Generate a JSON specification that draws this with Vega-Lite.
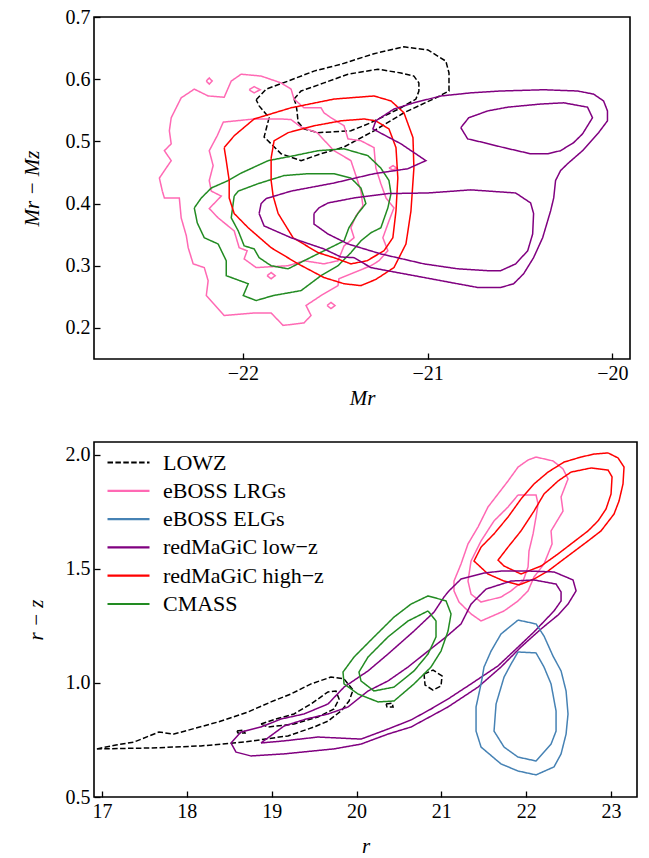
{
"$schema": "https://vega.github.io/schema/vega-lite/v6.json",
"padding": {"left": 20, "top": 6, "right": 5, "bottom": 5},
"spacing": 32,
"config": {
  "font": "Liberation Serif",
  "view": {"stroke": "black", "strokeWidth": 1.6},
  "axis": {"domain": false, "grid": false, "tickColor": "black", "tickWidth": 1.3, "tickSize": -6, "labelPadding": 10, "labelFontSize": 20, "labelColor": "black", "labelFont": "Liberation Serif", "titleFont": "Liberation Serif", "titleFontSize": 21, "titleFontWeight": "normal", "titleFontStyle": "italic", "titleColor": "black"}
},
"resolve": {"scale": {"color": "independent", "strokeDash": "independent"}},
"datasets": {
"top": [
{"s":"LOWZ","c":"a1","i":0,"x":-21.928,"y":0.567},{"s":"LOWZ","c":"a1","i":1,"x":-21.874,"y":0.584},{"s":"LOWZ","c":"a1","i":2,"x":-21.755,"y":0.597},{"s":"LOWZ","c":"a1","i":3,"x":-21.615,"y":0.613},{"s":"LOWZ","c":"a1","i":4,"x":-21.469,"y":0.624},{"s":"LOWZ","c":"a1","i":5,"x":-21.290,"y":0.641},{"s":"LOWZ","c":"a1","i":6,"x":-21.128,"y":0.652},{"s":"LOWZ","c":"a1","i":7,"x":-20.998,"y":0.647},{"s":"LOWZ","c":"a1","i":8,"x":-20.901,"y":0.629},{"s":"LOWZ","c":"a1","i":9,"x":-20.884,"y":0.610},{"s":"LOWZ","c":"a1","i":10,"x":-20.884,"y":0.581},{"s":"LOWZ","c":"a1","i":11,"x":-20.955,"y":0.570},{"s":"LOWZ","c":"a1","i":12,"x":-21.128,"y":0.546},{"s":"LOWZ","c":"a1","i":13,"x":-21.290,"y":0.517},{"s":"LOWZ","c":"a1","i":14,"x":-21.452,"y":0.491},{"s":"LOWZ","c":"a1","i":15,"x":-21.577,"y":0.480},{"s":"LOWZ","c":"a1","i":16,"x":-21.685,"y":0.469},{"s":"LOWZ","c":"a1","i":17,"x":-21.793,"y":0.480},{"s":"LOWZ","c":"a1","i":18,"x":-21.847,"y":0.496},{"s":"LOWZ","c":"a1","i":19,"x":-21.885,"y":0.507},{"s":"LOWZ","c":"a1","i":20,"x":-21.858,"y":0.538},{"s":"LOWZ","c":"a1","i":21,"x":-21.912,"y":0.557},{"s":"LOWZ","c":"a1","i":22,"x":-21.928,"y":0.567},
{"s":"LOWZ","c":"a2","i":0,"x":-21.723,"y":0.568},{"s":"LOWZ","c":"a2","i":1,"x":-21.685,"y":0.581},{"s":"LOWZ","c":"a2","i":2,"x":-21.561,"y":0.594},{"s":"LOWZ","c":"a2","i":3,"x":-21.431,"y":0.608},{"s":"LOWZ","c":"a2","i":4,"x":-21.269,"y":0.616},{"s":"LOWZ","c":"a2","i":5,"x":-21.144,"y":0.610},{"s":"LOWZ","c":"a2","i":6,"x":-21.074,"y":0.605},{"s":"LOWZ","c":"a2","i":7,"x":-21.047,"y":0.594},{"s":"LOWZ","c":"a2","i":8,"x":-21.047,"y":0.581},{"s":"LOWZ","c":"a2","i":9,"x":-21.063,"y":0.568},{"s":"LOWZ","c":"a2","i":10,"x":-21.144,"y":0.554},{"s":"LOWZ","c":"a2","i":11,"x":-21.307,"y":0.530},{"s":"LOWZ","c":"a2","i":12,"x":-21.415,"y":0.517},{"s":"LOWZ","c":"a2","i":13,"x":-21.594,"y":0.514},{"s":"LOWZ","c":"a2","i":14,"x":-21.669,"y":0.520},{"s":"LOWZ","c":"a2","i":15,"x":-21.701,"y":0.531},{"s":"LOWZ","c":"a2","i":16,"x":-21.707,"y":0.549},{"s":"LOWZ","c":"a2","i":17,"x":-21.712,"y":0.559},{"s":"LOWZ","c":"a2","i":18,"x":-21.723,"y":0.568},
{"s":"eBOSS LRGs","c":"b1","i":0,"x":-22.436,"y":0.420},{"s":"eBOSS LRGs","c":"b1","i":1,"x":-22.452,"y":0.441},{"s":"eBOSS LRGs","c":"b1","i":2,"x":-22.388,"y":0.469},{"s":"eBOSS LRGs","c":"b1","i":3,"x":-22.425,"y":0.485},{"s":"eBOSS LRGs","c":"b1","i":4,"x":-22.388,"y":0.496},{"s":"eBOSS LRGs","c":"b1","i":5,"x":-22.398,"y":0.517},{"s":"eBOSS LRGs","c":"b1","i":6,"x":-22.388,"y":0.538},{"s":"eBOSS LRGs","c":"b1","i":7,"x":-22.334,"y":0.570},{"s":"eBOSS LRGs","c":"b1","i":8,"x":-22.263,"y":0.584},{"s":"eBOSS LRGs","c":"b1","i":9,"x":-22.188,"y":0.573},{"s":"eBOSS LRGs","c":"b1","i":10,"x":-22.101,"y":0.571},{"s":"eBOSS LRGs","c":"b1","i":11,"x":-22.063,"y":0.597},{"s":"eBOSS LRGs","c":"b1","i":12,"x":-22.009,"y":0.608},{"s":"eBOSS LRGs","c":"b1","i":13,"x":-21.901,"y":0.605},{"s":"eBOSS LRGs","c":"b1","i":14,"x":-21.793,"y":0.594},{"s":"eBOSS LRGs","c":"b1","i":15,"x":-21.739,"y":0.584},{"s":"eBOSS LRGs","c":"b1","i":16,"x":-21.723,"y":0.568},{"s":"eBOSS LRGs","c":"b1","i":17,"x":-21.669,"y":0.554},{"s":"eBOSS LRGs","c":"b1","i":18,"x":-21.577,"y":0.554},{"s":"eBOSS LRGs","c":"b1","i":19,"x":-21.561,"y":0.546},{"s":"eBOSS LRGs","c":"b1","i":20,"x":-21.523,"y":0.538},{"s":"eBOSS LRGs","c":"b1","i":21,"x":-21.452,"y":0.525},{"s":"eBOSS LRGs","c":"b1","i":22,"x":-21.431,"y":0.504},{"s":"eBOSS LRGs","c":"b1","i":23,"x":-21.361,"y":0.501},{"s":"eBOSS LRGs","c":"b1","i":24,"x":-21.290,"y":0.490},{"s":"eBOSS LRGs","c":"b1","i":25,"x":-21.280,"y":0.457},{"s":"eBOSS LRGs","c":"b1","i":26,"x":-21.253,"y":0.432},{"s":"eBOSS LRGs","c":"b1","i":27,"x":-21.225,"y":0.409},{"s":"eBOSS LRGs","c":"b1","i":28,"x":-21.182,"y":0.393},{"s":"eBOSS LRGs","c":"b1","i":29,"x":-21.209,"y":0.372},{"s":"eBOSS LRGs","c":"b1","i":30,"x":-21.242,"y":0.345},{"s":"eBOSS LRGs","c":"b1","i":31,"x":-21.215,"y":0.324},{"s":"eBOSS LRGs","c":"b1","i":32,"x":-21.263,"y":0.308},{"s":"eBOSS LRGs","c":"b1","i":33,"x":-21.307,"y":0.300},{"s":"eBOSS LRGs","c":"b1","i":34,"x":-21.398,"y":0.289},{"s":"eBOSS LRGs","c":"b1","i":35,"x":-21.480,"y":0.279},{"s":"eBOSS LRGs","c":"b1","i":36,"x":-21.485,"y":0.268},{"s":"eBOSS LRGs","c":"b1","i":37,"x":-21.577,"y":0.252},{"s":"eBOSS LRGs","c":"b1","i":38,"x":-21.658,"y":0.236},{"s":"eBOSS LRGs","c":"b1","i":39,"x":-21.631,"y":0.220},{"s":"eBOSS LRGs","c":"b1","i":40,"x":-21.669,"y":0.208},{"s":"eBOSS LRGs","c":"b1","i":41,"x":-21.782,"y":0.204},{"s":"eBOSS LRGs","c":"b1","i":42,"x":-21.847,"y":0.224},{"s":"eBOSS LRGs","c":"b1","i":43,"x":-21.939,"y":0.224},{"s":"eBOSS LRGs","c":"b1","i":44,"x":-22.101,"y":0.220},{"s":"eBOSS LRGs","c":"b1","i":45,"x":-22.198,"y":0.252},{"s":"eBOSS LRGs","c":"b1","i":46,"x":-22.188,"y":0.276},{"s":"eBOSS LRGs","c":"b1","i":47,"x":-22.209,"y":0.297},{"s":"eBOSS LRGs","c":"b1","i":48,"x":-22.269,"y":0.303},{"s":"eBOSS LRGs","c":"b1","i":49,"x":-22.296,"y":0.329},{"s":"eBOSS LRGs","c":"b1","i":50,"x":-22.306,"y":0.348},{"s":"eBOSS LRGs","c":"b1","i":51,"x":-22.334,"y":0.377},{"s":"eBOSS LRGs","c":"b1","i":52,"x":-22.344,"y":0.409},{"s":"eBOSS LRGs","c":"b1","i":53,"x":-22.425,"y":0.409},{"s":"eBOSS LRGs","c":"b1","i":54,"x":-22.436,"y":0.420},
{"s":"eBOSS LRGs","c":"b2","i":0,"x":-22.139,"y":0.509},{"s":"eBOSS LRGs","c":"b2","i":1,"x":-22.106,"y":0.531},{"s":"eBOSS LRGs","c":"b2","i":2,"x":-21.939,"y":0.536},{"s":"eBOSS LRGs","c":"b2","i":3,"x":-21.793,"y":0.536},{"s":"eBOSS LRGs","c":"b2","i":4,"x":-21.739,"y":0.535},{"s":"eBOSS LRGs","c":"b2","i":5,"x":-21.685,"y":0.523},{"s":"eBOSS LRGs","c":"b2","i":6,"x":-21.598,"y":0.514},{"s":"eBOSS LRGs","c":"b2","i":7,"x":-21.507,"y":0.485},{"s":"eBOSS LRGs","c":"b2","i":8,"x":-21.415,"y":0.469},{"s":"eBOSS LRGs","c":"b2","i":9,"x":-21.388,"y":0.445},{"s":"eBOSS LRGs","c":"b2","i":10,"x":-21.361,"y":0.420},{"s":"eBOSS LRGs","c":"b2","i":11,"x":-21.350,"y":0.396},{"s":"eBOSS LRGs","c":"b2","i":12,"x":-21.388,"y":0.380},{"s":"eBOSS LRGs","c":"b2","i":13,"x":-21.415,"y":0.361},{"s":"eBOSS LRGs","c":"b2","i":14,"x":-21.398,"y":0.345},{"s":"eBOSS LRGs","c":"b2","i":15,"x":-21.452,"y":0.332},{"s":"eBOSS LRGs","c":"b2","i":16,"x":-21.485,"y":0.308},{"s":"eBOSS LRGs","c":"b2","i":17,"x":-21.561,"y":0.303},{"s":"eBOSS LRGs","c":"b2","i":18,"x":-21.669,"y":0.308},{"s":"eBOSS LRGs","c":"b2","i":19,"x":-21.755,"y":0.300},{"s":"eBOSS LRGs","c":"b2","i":20,"x":-21.928,"y":0.297},{"s":"eBOSS LRGs","c":"b2","i":21,"x":-21.993,"y":0.311},{"s":"eBOSS LRGs","c":"b2","i":22,"x":-21.977,"y":0.324},{"s":"eBOSS LRGs","c":"b2","i":23,"x":-22.020,"y":0.329},{"s":"eBOSS LRGs","c":"b2","i":24,"x":-22.047,"y":0.356},{"s":"eBOSS LRGs","c":"b2","i":25,"x":-22.134,"y":0.377},{"s":"eBOSS LRGs","c":"b2","i":26,"x":-22.182,"y":0.392},{"s":"eBOSS LRGs","c":"b2","i":27,"x":-22.117,"y":0.412},{"s":"eBOSS LRGs","c":"b2","i":28,"x":-22.171,"y":0.420},{"s":"eBOSS LRGs","c":"b2","i":29,"x":-22.182,"y":0.437},{"s":"eBOSS LRGs","c":"b2","i":30,"x":-22.161,"y":0.461},{"s":"eBOSS LRGs","c":"b2","i":31,"x":-22.182,"y":0.485},{"s":"eBOSS LRGs","c":"b2","i":32,"x":-22.139,"y":0.509},
{"s":"eBOSS LRGs","c":"b3","i":0,"x":-22.198,"y":0.597},{"s":"eBOSS LRGs","c":"b3","i":1,"x":-22.182,"y":0.602},{"s":"eBOSS LRGs","c":"b3","i":2,"x":-22.166,"y":0.597},{"s":"eBOSS LRGs","c":"b3","i":3,"x":-22.182,"y":0.592},{"s":"eBOSS LRGs","c":"b3","i":4,"x":-22.198,"y":0.597},
{"s":"eBOSS LRGs","c":"b4","i":0,"x":-21.966,"y":0.583},{"s":"eBOSS LRGs","c":"b4","i":1,"x":-21.939,"y":0.588},{"s":"eBOSS LRGs","c":"b4","i":2,"x":-21.906,"y":0.583},{"s":"eBOSS LRGs","c":"b4","i":3,"x":-21.939,"y":0.578},{"s":"eBOSS LRGs","c":"b4","i":4,"x":-21.966,"y":0.583},
{"s":"eBOSS LRGs","c":"b5","i":0,"x":-21.869,"y":0.284},{"s":"eBOSS LRGs","c":"b5","i":1,"x":-21.847,"y":0.289},{"s":"eBOSS LRGs","c":"b5","i":2,"x":-21.825,"y":0.284},{"s":"eBOSS LRGs","c":"b5","i":3,"x":-21.847,"y":0.279},{"s":"eBOSS LRGs","c":"b5","i":4,"x":-21.869,"y":0.284},
{"s":"eBOSS LRGs","c":"b6","i":0,"x":-21.544,"y":0.236},{"s":"eBOSS LRGs","c":"b6","i":1,"x":-21.523,"y":0.241},{"s":"eBOSS LRGs","c":"b6","i":2,"x":-21.501,"y":0.236},{"s":"eBOSS LRGs","c":"b6","i":3,"x":-21.523,"y":0.231},{"s":"eBOSS LRGs","c":"b6","i":4,"x":-21.544,"y":0.236},
{"s":"eBOSS LRGs","c":"b7","i":0,"x":-21.209,"y":0.457},{"s":"eBOSS LRGs","c":"b7","i":1,"x":-21.187,"y":0.461},{"s":"eBOSS LRGs","c":"b7","i":2,"x":-21.166,"y":0.457},{"s":"eBOSS LRGs","c":"b7","i":3,"x":-21.187,"y":0.454},{"s":"eBOSS LRGs","c":"b7","i":4,"x":-21.209,"y":0.457},
{"s":"CMASS","c":"g1","i":0,"x":-22.263,"y":0.393},{"s":"CMASS","c":"g1","i":1,"x":-22.225,"y":0.409},{"s":"CMASS","c":"g1","i":2,"x":-22.171,"y":0.425},{"s":"CMASS","c":"g1","i":3,"x":-22.079,"y":0.437},{"s":"CMASS","c":"g1","i":4,"x":-22.009,"y":0.449},{"s":"CMASS","c":"g1","i":5,"x":-21.863,"y":0.469},{"s":"CMASS","c":"g1","i":6,"x":-21.723,"y":0.477},{"s":"CMASS","c":"g1","i":7,"x":-21.593,"y":0.485},{"s":"CMASS","c":"g1","i":8,"x":-21.452,"y":0.488},{"s":"CMASS","c":"g1","i":9,"x":-21.323,"y":0.477},{"s":"CMASS","c":"g1","i":10,"x":-21.253,"y":0.457},{"s":"CMASS","c":"g1","i":11,"x":-21.209,"y":0.437},{"s":"CMASS","c":"g1","i":12,"x":-21.198,"y":0.416},{"s":"CMASS","c":"g1","i":13,"x":-21.215,"y":0.393},{"s":"CMASS","c":"g1","i":14,"x":-21.253,"y":0.361},{"s":"CMASS","c":"g1","i":15,"x":-21.307,"y":0.353},{"s":"CMASS","c":"g1","i":16,"x":-21.361,"y":0.340},{"s":"CMASS","c":"g1","i":17,"x":-21.415,"y":0.321},{"s":"CMASS","c":"g1","i":18,"x":-21.485,"y":0.300},{"s":"CMASS","c":"g1","i":19,"x":-21.577,"y":0.284},{"s":"CMASS","c":"g1","i":20,"x":-21.685,"y":0.260},{"s":"CMASS","c":"g1","i":21,"x":-21.836,"y":0.252},{"s":"CMASS","c":"g1","i":22,"x":-21.928,"y":0.244},{"s":"CMASS","c":"g1","i":23,"x":-21.998,"y":0.252},{"s":"CMASS","c":"g1","i":24,"x":-21.971,"y":0.271},{"s":"CMASS","c":"g1","i":25,"x":-22.090,"y":0.284},{"s":"CMASS","c":"g1","i":26,"x":-22.090,"y":0.308},{"s":"CMASS","c":"g1","i":27,"x":-22.134,"y":0.335},{"s":"CMASS","c":"g1","i":28,"x":-22.209,"y":0.345},{"s":"CMASS","c":"g1","i":29,"x":-22.247,"y":0.369},{"s":"CMASS","c":"g1","i":30,"x":-22.263,"y":0.393},
{"s":"CMASS","c":"g2","i":0,"x":-22.047,"y":0.412},{"s":"CMASS","c":"g2","i":1,"x":-22.025,"y":0.420},{"s":"CMASS","c":"g2","i":2,"x":-21.917,"y":0.432},{"s":"CMASS","c":"g2","i":3,"x":-21.777,"y":0.445},{"s":"CMASS","c":"g2","i":4,"x":-21.647,"y":0.448},{"s":"CMASS","c":"g2","i":5,"x":-21.507,"y":0.448},{"s":"CMASS","c":"g2","i":6,"x":-21.415,"y":0.441},{"s":"CMASS","c":"g2","i":7,"x":-21.361,"y":0.425},{"s":"CMASS","c":"g2","i":8,"x":-21.334,"y":0.400},{"s":"CMASS","c":"g2","i":9,"x":-21.377,"y":0.384},{"s":"CMASS","c":"g2","i":10,"x":-21.426,"y":0.361},{"s":"CMASS","c":"g2","i":11,"x":-21.452,"y":0.340},{"s":"CMASS","c":"g2","i":12,"x":-21.561,"y":0.324},{"s":"CMASS","c":"g2","i":13,"x":-21.669,"y":0.308},{"s":"CMASS","c":"g2","i":14,"x":-21.755,"y":0.295},{"s":"CMASS","c":"g2","i":15,"x":-21.847,"y":0.300},{"s":"CMASS","c":"g2","i":16,"x":-21.912,"y":0.313},{"s":"CMASS","c":"g2","i":17,"x":-21.939,"y":0.327},{"s":"CMASS","c":"g2","i":18,"x":-21.993,"y":0.332},{"s":"CMASS","c":"g2","i":19,"x":-22.025,"y":0.356},{"s":"CMASS","c":"g2","i":20,"x":-22.063,"y":0.377},{"s":"CMASS","c":"g2","i":21,"x":-22.047,"y":0.412},
{"s":"redMaGiC high\u2212z","c":"r1","i":0,"x":-22.101,"y":0.490},{"s":"redMaGiC high\u2212z","c":"r1","i":1,"x":-22.090,"y":0.469},{"s":"redMaGiC high\u2212z","c":"r1","i":2,"x":-22.074,"y":0.437},{"s":"redMaGiC high\u2212z","c":"r1","i":3,"x":-22.074,"y":0.409},{"s":"redMaGiC high\u2212z","c":"r1","i":4,"x":-22.047,"y":0.384},{"s":"redMaGiC high\u2212z","c":"r1","i":5,"x":-21.971,"y":0.361},{"s":"redMaGiC high\u2212z","c":"r1","i":6,"x":-21.847,"y":0.329},{"s":"redMaGiC high\u2212z","c":"r1","i":7,"x":-21.701,"y":0.303},{"s":"redMaGiC high\u2212z","c":"r1","i":8,"x":-21.561,"y":0.281},{"s":"redMaGiC high\u2212z","c":"r1","i":9,"x":-21.452,"y":0.271},{"s":"redMaGiC high\u2212z","c":"r1","i":10,"x":-21.361,"y":0.268},{"s":"redMaGiC high\u2212z","c":"r1","i":11,"x":-21.280,"y":0.278},{"s":"redMaGiC high\u2212z","c":"r1","i":12,"x":-21.182,"y":0.297},{"s":"redMaGiC high\u2212z","c":"r1","i":13,"x":-21.117,"y":0.335},{"s":"redMaGiC high\u2212z","c":"r1","i":14,"x":-21.090,"y":0.388},{"s":"redMaGiC high\u2212z","c":"r1","i":15,"x":-21.074,"y":0.457},{"s":"redMaGiC high\u2212z","c":"r1","i":16,"x":-21.079,"y":0.506},{"s":"redMaGiC high\u2212z","c":"r1","i":17,"x":-21.128,"y":0.546},{"s":"redMaGiC high\u2212z","c":"r1","i":18,"x":-21.198,"y":0.565},{"s":"redMaGiC high\u2212z","c":"r1","i":19,"x":-21.290,"y":0.573},{"s":"redMaGiC high\u2212z","c":"r1","i":20,"x":-21.507,"y":0.568},{"s":"redMaGiC high\u2212z","c":"r1","i":21,"x":-21.739,"y":0.554},{"s":"redMaGiC high\u2212z","c":"r1","i":22,"x":-21.939,"y":0.536},{"s":"redMaGiC high\u2212z","c":"r1","i":23,"x":-22.047,"y":0.509},{"s":"redMaGiC high\u2212z","c":"r1","i":24,"x":-22.101,"y":0.490},
{"s":"redMaGiC high\u2212z","c":"r2","i":0,"x":-21.847,"y":0.473},{"s":"redMaGiC high\u2212z","c":"r2","i":1,"x":-21.831,"y":0.501},{"s":"redMaGiC high\u2212z","c":"r2","i":2,"x":-21.755,"y":0.514},{"s":"redMaGiC high\u2212z","c":"r2","i":3,"x":-21.615,"y":0.525},{"s":"redMaGiC high\u2212z","c":"r2","i":4,"x":-21.469,"y":0.533},{"s":"redMaGiC high\u2212z","c":"r2","i":5,"x":-21.344,"y":0.536},{"s":"redMaGiC high\u2212z","c":"r2","i":6,"x":-21.280,"y":0.533},{"s":"redMaGiC high\u2212z","c":"r2","i":7,"x":-21.209,"y":0.520},{"s":"redMaGiC high\u2212z","c":"r2","i":8,"x":-21.171,"y":0.490},{"s":"redMaGiC high\u2212z","c":"r2","i":9,"x":-21.161,"y":0.441},{"s":"redMaGiC high\u2212z","c":"r2","i":10,"x":-21.171,"y":0.388},{"s":"redMaGiC high\u2212z","c":"r2","i":11,"x":-21.188,"y":0.345},{"s":"redMaGiC high\u2212z","c":"r2","i":12,"x":-21.236,"y":0.324},{"s":"redMaGiC high\u2212z","c":"r2","i":13,"x":-21.328,"y":0.308},{"s":"redMaGiC high\u2212z","c":"r2","i":14,"x":-21.415,"y":0.303},{"s":"redMaGiC high\u2212z","c":"r2","i":15,"x":-21.507,"y":0.313},{"s":"redMaGiC high\u2212z","c":"r2","i":16,"x":-21.593,"y":0.321},{"s":"redMaGiC high\u2212z","c":"r2","i":17,"x":-21.728,"y":0.345},{"s":"redMaGiC high\u2212z","c":"r2","i":18,"x":-21.809,"y":0.384},{"s":"redMaGiC high\u2212z","c":"r2","i":19,"x":-21.836,"y":0.412},{"s":"redMaGiC high\u2212z","c":"r2","i":20,"x":-21.847,"y":0.437},{"s":"redMaGiC high\u2212z","c":"r2","i":21,"x":-21.847,"y":0.473},
{"s":"redMaGiC low\u2212z","c":"p1","i":0,"x":-21.912,"y":0.384},{"s":"redMaGiC low\u2212z","c":"p1","i":1,"x":-21.901,"y":0.400},{"s":"redMaGiC low\u2212z","c":"p1","i":2,"x":-21.874,"y":0.408},{"s":"redMaGiC low\u2212z","c":"p1","i":3,"x":-21.739,"y":0.420},{"s":"redMaGiC low\u2212z","c":"p1","i":4,"x":-21.507,"y":0.433},{"s":"redMaGiC low\u2212z","c":"p1","i":5,"x":-21.290,"y":0.448},{"s":"redMaGiC low\u2212z","c":"p1","i":6,"x":-21.107,"y":0.456},{"s":"redMaGiC low\u2212z","c":"p1","i":7,"x":-21.009,"y":0.469},{"s":"redMaGiC low\u2212z","c":"p1","i":8,"x":-21.144,"y":0.496},{"s":"redMaGiC low\u2212z","c":"p1","i":9,"x":-21.296,"y":0.520},{"s":"redMaGiC low\u2212z","c":"p1","i":10,"x":-21.280,"y":0.533},{"s":"redMaGiC low\u2212z","c":"p1","i":11,"x":-21.182,"y":0.552},{"s":"redMaGiC low\u2212z","c":"p1","i":12,"x":-21.074,"y":0.562},{"s":"redMaGiC low\u2212z","c":"p1","i":13,"x":-20.928,"y":0.573},{"s":"redMaGiC low\u2212z","c":"p1","i":14,"x":-20.766,"y":0.578},{"s":"redMaGiC low\u2212z","c":"p1","i":15,"x":-20.604,"y":0.581},{"s":"redMaGiC low\u2212z","c":"p1","i":16,"x":-20.371,"y":0.583},{"s":"redMaGiC low\u2212z","c":"p1","i":17,"x":-20.188,"y":0.581},{"s":"redMaGiC low\u2212z","c":"p1","i":18,"x":-20.101,"y":0.576},{"s":"redMaGiC low\u2212z","c":"p1","i":19,"x":-20.047,"y":0.565},{"s":"redMaGiC low\u2212z","c":"p1","i":20,"x":-20.026,"y":0.549},{"s":"redMaGiC low\u2212z","c":"p1","i":21,"x":-20.026,"y":0.533},{"s":"redMaGiC low\u2212z","c":"p1","i":22,"x":-20.074,"y":0.514},{"s":"redMaGiC low\u2212z","c":"p1","i":23,"x":-20.161,"y":0.485},{"s":"redMaGiC low\u2212z","c":"p1","i":24,"x":-20.242,"y":0.464},{"s":"redMaGiC low\u2212z","c":"p1","i":25,"x":-20.280,"y":0.453},{"s":"redMaGiC low\u2212z","c":"p1","i":26,"x":-20.307,"y":0.437},{"s":"redMaGiC low\u2212z","c":"p1","i":27,"x":-20.317,"y":0.409},{"s":"redMaGiC low\u2212z","c":"p1","i":28,"x":-20.334,"y":0.388},{"s":"redMaGiC low\u2212z","c":"p1","i":29,"x":-20.377,"y":0.345},{"s":"redMaGiC low\u2212z","c":"p1","i":30,"x":-20.426,"y":0.313},{"s":"redMaGiC low\u2212z","c":"p1","i":31,"x":-20.480,"y":0.287},{"s":"redMaGiC low\u2212z","c":"p1","i":32,"x":-20.534,"y":0.271},{"s":"redMaGiC low\u2212z","c":"p1","i":33,"x":-20.604,"y":0.265},{"s":"redMaGiC low\u2212z","c":"p1","i":34,"x":-20.728,"y":0.265},{"s":"redMaGiC low\u2212z","c":"p1","i":35,"x":-20.874,"y":0.273},{"s":"redMaGiC low\u2212z","c":"p1","i":36,"x":-21.036,"y":0.282},{"s":"redMaGiC low\u2212z","c":"p1","i":37,"x":-21.182,"y":0.290},{"s":"redMaGiC low\u2212z","c":"p1","i":38,"x":-21.307,"y":0.297},{"s":"redMaGiC low\u2212z","c":"p1","i":39,"x":-21.398,"y":0.313},{"s":"redMaGiC low\u2212z","c":"p1","i":40,"x":-21.469,"y":0.314},{"s":"redMaGiC low\u2212z","c":"p1","i":41,"x":-21.561,"y":0.327},{"s":"redMaGiC low\u2212z","c":"p1","i":42,"x":-21.739,"y":0.345},{"s":"redMaGiC low\u2212z","c":"p1","i":43,"x":-21.885,"y":0.364},{"s":"redMaGiC low\u2212z","c":"p1","i":44,"x":-21.912,"y":0.384},
{"s":"redMaGiC low\u2212z","c":"p2","i":0,"x":-21.615,"y":0.384},{"s":"redMaGiC low\u2212z","c":"p2","i":1,"x":-21.588,"y":0.393},{"s":"redMaGiC low\u2212z","c":"p2","i":2,"x":-21.539,"y":0.401},{"s":"redMaGiC low\u2212z","c":"p2","i":3,"x":-21.398,"y":0.409},{"s":"redMaGiC low\u2212z","c":"p2","i":4,"x":-21.215,"y":0.416},{"s":"redMaGiC low\u2212z","c":"p2","i":5,"x":-20.998,"y":0.417},{"s":"redMaGiC low\u2212z","c":"p2","i":6,"x":-20.766,"y":0.422},{"s":"redMaGiC low\u2212z","c":"p2","i":7,"x":-20.523,"y":0.417},{"s":"redMaGiC low\u2212z","c":"p2","i":8,"x":-20.442,"y":0.401},{"s":"redMaGiC low\u2212z","c":"p2","i":9,"x":-20.426,"y":0.384},{"s":"redMaGiC low\u2212z","c":"p2","i":10,"x":-20.431,"y":0.351},{"s":"redMaGiC low\u2212z","c":"p2","i":11,"x":-20.458,"y":0.324},{"s":"redMaGiC low\u2212z","c":"p2","i":12,"x":-20.523,"y":0.303},{"s":"redMaGiC low\u2212z","c":"p2","i":13,"x":-20.604,"y":0.292},{"s":"redMaGiC low\u2212z","c":"p2","i":14,"x":-20.674,"y":0.292},{"s":"redMaGiC low\u2212z","c":"p2","i":15,"x":-20.836,"y":0.295},{"s":"redMaGiC low\u2212z","c":"p2","i":16,"x":-21.020,"y":0.303},{"s":"redMaGiC low\u2212z","c":"p2","i":17,"x":-21.253,"y":0.319},{"s":"redMaGiC low\u2212z","c":"p2","i":18,"x":-21.431,"y":0.335},{"s":"redMaGiC low\u2212z","c":"p2","i":19,"x":-21.539,"y":0.351},{"s":"redMaGiC low\u2212z","c":"p2","i":20,"x":-21.615,"y":0.367},{"s":"redMaGiC low\u2212z","c":"p2","i":21,"x":-21.615,"y":0.384},
{"s":"redMaGiC low\u2212z","c":"p3","i":0,"x":-20.820,"y":0.522},{"s":"redMaGiC low\u2212z","c":"p3","i":1,"x":-20.777,"y":0.538},{"s":"redMaGiC low\u2212z","c":"p3","i":2,"x":-20.674,"y":0.549},{"s":"redMaGiC low\u2212z","c":"p3","i":3,"x":-20.566,"y":0.555},{"s":"redMaGiC low\u2212z","c":"p3","i":4,"x":-20.388,"y":0.560},{"s":"redMaGiC low\u2212z","c":"p3","i":5,"x":-20.263,"y":0.562},{"s":"redMaGiC low\u2212z","c":"p3","i":6,"x":-20.134,"y":0.555},{"s":"redMaGiC low\u2212z","c":"p3","i":7,"x":-20.107,"y":0.538},{"s":"redMaGiC low\u2212z","c":"p3","i":8,"x":-20.161,"y":0.512},{"s":"redMaGiC low\u2212z","c":"p3","i":9,"x":-20.209,"y":0.498},{"s":"redMaGiC low\u2212z","c":"p3","i":10,"x":-20.280,"y":0.485},{"s":"redMaGiC low\u2212z","c":"p3","i":11,"x":-20.350,"y":0.480},{"s":"redMaGiC low\u2212z","c":"p3","i":12,"x":-20.442,"y":0.480},{"s":"redMaGiC low\u2212z","c":"p3","i":13,"x":-20.588,"y":0.490},{"s":"redMaGiC low\u2212z","c":"p3","i":14,"x":-20.696,"y":0.498},{"s":"redMaGiC low\u2212z","c":"p3","i":15,"x":-20.783,"y":0.504},{"s":"redMaGiC low\u2212z","c":"p3","i":16,"x":-20.820,"y":0.522}
],
"bot": [
{"s":"LOWZ","c":"a1","i":0,"x":16.94,"y":0.711},{"s":"LOWZ","c":"a1","i":1,"x":17.165,"y":0.728},{"s":"LOWZ","c":"a1","i":2,"x":17.377,"y":0.741},{"s":"LOWZ","c":"a1","i":3,"x":17.672,"y":0.785},{"s":"LOWZ","c":"a1","i":4,"x":17.849,"y":0.776},{"s":"LOWZ","c":"a1","i":5,"x":18.367,"y":0.829},{"s":"LOWZ","c":"a1","i":6,"x":18.721,"y":0.873},{"s":"LOWZ","c":"a1","i":7,"x":18.992,"y":0.917},{"s":"LOWZ","c":"a1","i":8,"x":19.228,"y":0.952},{"s":"LOWZ","c":"a1","i":9,"x":19.464,"y":0.996},{"s":"LOWZ","c":"a1","i":10,"x":19.699,"y":1.026},{"s":"LOWZ","c":"a1","i":11,"x":19.853,"y":1.018},{"s":"LOWZ","c":"a1","i":12,"x":19.959,"y":0.969},{"s":"LOWZ","c":"a1","i":13,"x":19.912,"y":0.921},{"s":"LOWZ","c":"a1","i":14,"x":19.817,"y":0.877},{"s":"LOWZ","c":"a1","i":15,"x":19.664,"y":0.833},{"s":"LOWZ","c":"a1","i":16,"x":19.499,"y":0.807},{"s":"LOWZ","c":"a1","i":17,"x":19.193,"y":0.768},{"s":"LOWZ","c":"a1","i":18,"x":18.674,"y":0.741},{"s":"LOWZ","c":"a1","i":19,"x":18.167,"y":0.724},{"s":"LOWZ","c":"a1","i":20,"x":17.578,"y":0.715},{"s":"LOWZ","c":"a1","i":21,"x":16.94,"y":0.711},
{"s":"LOWZ","c":"a2","i":0,"x":18.874,"y":0.820},{"s":"LOWZ","c":"a2","i":1,"x":19.051,"y":0.842},{"s":"LOWZ","c":"a2","i":2,"x":19.263,"y":0.864},{"s":"LOWZ","c":"a2","i":3,"x":19.464,"y":0.908},{"s":"LOWZ","c":"a2","i":4,"x":19.664,"y":0.961},{"s":"LOWZ","c":"a2","i":5,"x":19.758,"y":0.965},{"s":"LOWZ","c":"a2","i":6,"x":19.794,"y":0.930},{"s":"LOWZ","c":"a2","i":7,"x":19.735,"y":0.886},{"s":"LOWZ","c":"a2","i":8,"x":19.546,"y":0.851},{"s":"LOWZ","c":"a2","i":9,"x":19.263,"y":0.820},{"s":"LOWZ","c":"a2","i":10,"x":18.957,"y":0.807},{"s":"LOWZ","c":"a2","i":11,"x":18.874,"y":0.820},
{"s":"LOWZ","c":"a3","i":0,"x":20.796,"y":1.039},{"s":"LOWZ","c":"a3","i":1,"x":20.902,"y":1.057},{"s":"LOWZ","c":"a3","i":2,"x":21.008,"y":1.031},{"s":"LOWZ","c":"a3","i":3,"x":20.996,"y":0.987},{"s":"LOWZ","c":"a3","i":4,"x":20.902,"y":0.969},{"s":"LOWZ","c":"a3","i":5,"x":20.808,"y":0.991},{"s":"LOWZ","c":"a3","i":6,"x":20.796,"y":1.039},
{"s":"LOWZ","c":"a4","i":0,"x":20.348,"y":0.908},{"s":"LOWZ","c":"a4","i":1,"x":20.419,"y":0.912},{"s":"LOWZ","c":"a4","i":2,"x":20.431,"y":0.895},{"s":"LOWZ","c":"a4","i":3,"x":20.360,"y":0.895},{"s":"LOWZ","c":"a4","i":4,"x":20.348,"y":0.908},
{"s":"LOWZ","c":"a5","i":0,"x":18.591,"y":0.789},{"s":"LOWZ","c":"a5","i":1,"x":18.674,"y":0.794},{"s":"LOWZ","c":"a5","i":2,"x":18.686,"y":0.781},{"s":"LOWZ","c":"a5","i":3,"x":18.603,"y":0.781},{"s":"LOWZ","c":"a5","i":4,"x":18.591,"y":0.789},
{"s":"eBOSS LRGs","c":"b1","i":0,"x":22.116,"y":1.991},{"s":"eBOSS LRGs","c":"b1","i":1,"x":22.316,"y":1.974},{"s":"eBOSS LRGs","c":"b1","i":2,"x":22.434,"y":1.939},{"s":"eBOSS LRGs","c":"b1","i":3,"x":22.493,"y":1.895},{"s":"eBOSS LRGs","c":"b1","i":4,"x":22.411,"y":1.816},{"s":"eBOSS LRGs","c":"b1","i":5,"x":22.434,"y":1.754},{"s":"eBOSS LRGs","c":"b1","i":6,"x":22.293,"y":1.667},{"s":"eBOSS LRGs","c":"b1","i":7,"x":22.305,"y":1.610},{"s":"eBOSS LRGs","c":"b1","i":8,"x":22.210,"y":1.522},{"s":"eBOSS LRGs","c":"b1","i":9,"x":22.092,"y":1.465},{"s":"eBOSS LRGs","c":"b1","i":10,"x":22.022,"y":1.404},{"s":"eBOSS LRGs","c":"b1","i":11,"x":21.904,"y":1.360},{"s":"eBOSS LRGs","c":"b1","i":12,"x":21.739,"y":1.316},{"s":"eBOSS LRGs","c":"b1","i":13,"x":21.468,"y":1.272},{"s":"eBOSS LRGs","c":"b1","i":14,"x":21.350,"y":1.303},{"s":"eBOSS LRGs","c":"b1","i":15,"x":21.208,"y":1.355},{"s":"eBOSS LRGs","c":"b1","i":16,"x":21.149,"y":1.404},{"s":"eBOSS LRGs","c":"b1","i":17,"x":21.149,"y":1.447},{"s":"eBOSS LRGs","c":"b1","i":18,"x":21.232,"y":1.522},{"s":"eBOSS LRGs","c":"b1","i":19,"x":21.314,"y":1.610},{"s":"eBOSS LRGs","c":"b1","i":20,"x":21.432,"y":1.684},{"s":"eBOSS LRGs","c":"b1","i":21,"x":21.550,"y":1.772},{"s":"eBOSS LRGs","c":"b1","i":22,"x":21.668,"y":1.829},{"s":"eBOSS LRGs","c":"b1","i":23,"x":21.786,"y":1.886},{"s":"eBOSS LRGs","c":"b1","i":24,"x":21.904,"y":1.947},{"s":"eBOSS LRGs","c":"b1","i":25,"x":22.022,"y":1.978},{"s":"eBOSS LRGs","c":"b1","i":26,"x":22.116,"y":1.991},
{"s":"eBOSS LRGs","c":"b2","i":0,"x":21.904,"y":1.825},{"s":"eBOSS LRGs","c":"b2","i":1,"x":22.116,"y":1.825},{"s":"eBOSS LRGs","c":"b2","i":2,"x":22.140,"y":1.785},{"s":"eBOSS LRGs","c":"b2","i":3,"x":22.116,"y":1.728},{"s":"eBOSS LRGs","c":"b2","i":4,"x":22.081,"y":1.654},{"s":"eBOSS LRGs","c":"b2","i":5,"x":22.033,"y":1.579},{"s":"eBOSS LRGs","c":"b2","i":6,"x":22.022,"y":1.509},{"s":"eBOSS LRGs","c":"b2","i":7,"x":21.963,"y":1.447},{"s":"eBOSS LRGs","c":"b2","i":8,"x":21.821,"y":1.404},{"s":"eBOSS LRGs","c":"b2","i":9,"x":21.703,"y":1.377},{"s":"eBOSS LRGs","c":"b2","i":10,"x":21.468,"y":1.355},{"s":"eBOSS LRGs","c":"b2","i":11,"x":21.350,"y":1.390},{"s":"eBOSS LRGs","c":"b2","i":12,"x":21.314,"y":1.447},{"s":"eBOSS LRGs","c":"b2","i":13,"x":21.350,"y":1.535},{"s":"eBOSS LRGs","c":"b2","i":14,"x":21.468,"y":1.623},{"s":"eBOSS LRGs","c":"b2","i":15,"x":21.621,"y":1.711},{"s":"eBOSS LRGs","c":"b2","i":16,"x":21.786,"y":1.772},{"s":"eBOSS LRGs","c":"b2","i":17,"x":21.904,"y":1.825},
{"s":"redMaGiC high\u2212z","c":"r1","i":0,"x":22.965,"y":2.009},{"s":"redMaGiC high\u2212z","c":"r1","i":1,"x":23.083,"y":1.987},{"s":"redMaGiC high\u2212z","c":"r1","i":2,"x":23.153,"y":1.947},{"s":"redMaGiC high\u2212z","c":"r1","i":3,"x":23.141,"y":1.873},{"s":"redMaGiC high\u2212z","c":"r1","i":4,"x":23.094,"y":1.798},{"s":"redMaGiC high\u2212z","c":"r1","i":5,"x":23.035,"y":1.741},{"s":"redMaGiC high\u2212z","c":"r1","i":6,"x":22.882,"y":1.667},{"s":"redMaGiC high\u2212z","c":"r1","i":7,"x":22.729,"y":1.623},{"s":"redMaGiC high\u2212z","c":"r1","i":8,"x":22.446,"y":1.544},{"s":"redMaGiC high\u2212z","c":"r1","i":9,"x":22.257,"y":1.491},{"s":"redMaGiC high\u2212z","c":"r1","i":10,"x":22.092,"y":1.456},{"s":"redMaGiC high\u2212z","c":"r1","i":11,"x":21.916,"y":1.430},{"s":"redMaGiC high\u2212z","c":"r1","i":12,"x":21.739,"y":1.447},{"s":"redMaGiC high\u2212z","c":"r1","i":13,"x":21.550,"y":1.478},{"s":"redMaGiC high\u2212z","c":"r1","i":14,"x":21.385,"y":1.535},{"s":"redMaGiC high\u2212z","c":"r1","i":15,"x":21.468,"y":1.596},{"s":"redMaGiC high\u2212z","c":"r1","i":16,"x":21.621,"y":1.654},{"s":"redMaGiC high\u2212z","c":"r1","i":17,"x":21.786,"y":1.728},{"s":"redMaGiC high\u2212z","c":"r1","i":18,"x":21.939,"y":1.807},{"s":"redMaGiC high\u2212z","c":"r1","i":19,"x":22.092,"y":1.873},{"s":"redMaGiC high\u2212z","c":"r1","i":20,"x":22.257,"y":1.925},{"s":"redMaGiC high\u2212z","c":"r1","i":21,"x":22.446,"y":1.969},{"s":"redMaGiC high\u2212z","c":"r1","i":22,"x":22.646,"y":1.991},{"s":"redMaGiC high\u2212z","c":"r1","i":23,"x":22.800,"y":2.004},{"s":"redMaGiC high\u2212z","c":"r1","i":24,"x":22.965,"y":2.009},
{"s":"redMaGiC high\u2212z","c":"r2","i":0,"x":22.764,"y":1.943},{"s":"redMaGiC high\u2212z","c":"r2","i":1,"x":22.965,"y":1.934},{"s":"redMaGiC high\u2212z","c":"r2","i":2,"x":23.012,"y":1.904},{"s":"redMaGiC high\u2212z","c":"r2","i":3,"x":23.000,"y":1.829},{"s":"redMaGiC high\u2212z","c":"r2","i":4,"x":22.941,"y":1.763},{"s":"redMaGiC high\u2212z","c":"r2","i":5,"x":22.847,"y":1.711},{"s":"redMaGiC high\u2212z","c":"r2","i":6,"x":22.729,"y":1.667},{"s":"redMaGiC high\u2212z","c":"r2","i":7,"x":22.529,"y":1.610},{"s":"redMaGiC high\u2212z","c":"r2","i":8,"x":22.375,"y":1.566},{"s":"redMaGiC high\u2212z","c":"r2","i":9,"x":22.175,"y":1.513},{"s":"redMaGiC high\u2212z","c":"r2","i":10,"x":21.939,"y":1.478},{"s":"redMaGiC high\u2212z","c":"r2","i":11,"x":21.739,"y":1.513},{"s":"redMaGiC high\u2212z","c":"r2","i":12,"x":21.668,"y":1.539},{"s":"redMaGiC high\u2212z","c":"r2","i":13,"x":21.786,"y":1.596},{"s":"redMaGiC high\u2212z","c":"r2","i":14,"x":21.939,"y":1.667},{"s":"redMaGiC high\u2212z","c":"r2","i":15,"x":22.092,"y":1.754},{"s":"redMaGiC high\u2212z","c":"r2","i":16,"x":22.210,"y":1.829},{"s":"redMaGiC high\u2212z","c":"r2","i":17,"x":22.375,"y":1.886},{"s":"redMaGiC high\u2212z","c":"r2","i":18,"x":22.529,"y":1.925},{"s":"redMaGiC high\u2212z","c":"r2","i":19,"x":22.764,"y":1.943},
{"s":"redMaGiC low\u2212z","c":"p1","i":0,"x":18.521,"y":0.737},{"s":"redMaGiC low\u2212z","c":"p1","i":1,"x":18.639,"y":0.785},{"s":"redMaGiC low\u2212z","c":"p1","i":2,"x":18.874,"y":0.807},{"s":"redMaGiC low\u2212z","c":"p1","i":3,"x":19.110,"y":0.842},{"s":"redMaGiC low\u2212z","c":"p1","i":4,"x":19.381,"y":0.864},{"s":"redMaGiC low\u2212z","c":"p1","i":5,"x":19.664,"y":0.908},{"s":"redMaGiC low\u2212z","c":"p1","i":6,"x":19.853,"y":0.982},{"s":"redMaGiC low\u2212z","c":"p1","i":7,"x":20.136,"y":1.053},{"s":"redMaGiC low\u2212z","c":"p1","i":8,"x":20.371,"y":1.127},{"s":"redMaGiC low\u2212z","c":"p1","i":9,"x":20.678,"y":1.228},{"s":"redMaGiC low\u2212z","c":"p1","i":10,"x":20.914,"y":1.311},{"s":"redMaGiC low\u2212z","c":"p1","i":11,"x":21.031,"y":1.377},{"s":"redMaGiC low\u2212z","c":"p1","i":12,"x":21.090,"y":1.404},{"s":"redMaGiC low\u2212z","c":"p1","i":13,"x":21.232,"y":1.456},{"s":"redMaGiC low\u2212z","c":"p1","i":14,"x":21.503,"y":1.482},{"s":"redMaGiC low\u2212z","c":"p1","i":15,"x":21.703,"y":1.491},{"s":"redMaGiC low\u2212z","c":"p1","i":16,"x":22.022,"y":1.491},{"s":"redMaGiC low\u2212z","c":"p1","i":17,"x":22.328,"y":1.487},{"s":"redMaGiC low\u2212z","c":"p1","i":18,"x":22.552,"y":1.452},{"s":"redMaGiC low\u2212z","c":"p1","i":19,"x":22.588,"y":1.404},{"s":"redMaGiC low\u2212z","c":"p1","i":20,"x":22.493,"y":1.346},{"s":"redMaGiC low\u2212z","c":"p1","i":21,"x":22.375,"y":1.298},{"s":"redMaGiC low\u2212z","c":"p1","i":22,"x":22.175,"y":1.237},{"s":"redMaGiC low\u2212z","c":"p1","i":23,"x":21.939,"y":1.158},{"s":"redMaGiC low\u2212z","c":"p1","i":24,"x":21.703,"y":1.070},{"s":"redMaGiC low\u2212z","c":"p1","i":25,"x":21.432,"y":0.982},{"s":"redMaGiC low\u2212z","c":"p1","i":26,"x":21.079,"y":0.895},{"s":"redMaGiC low\u2212z","c":"p1","i":27,"x":20.643,"y":0.807},{"s":"redMaGiC low\u2212z","c":"p1","i":28,"x":20.371,"y":0.776},{"s":"redMaGiC low\u2212z","c":"p1","i":29,"x":20.053,"y":0.732},{"s":"redMaGiC low\u2212z","c":"p1","i":30,"x":19.735,"y":0.711},{"s":"redMaGiC low\u2212z","c":"p1","i":31,"x":19.145,"y":0.689},{"s":"redMaGiC low\u2212z","c":"p1","i":32,"x":18.756,"y":0.680},{"s":"redMaGiC low\u2212z","c":"p1","i":33,"x":18.580,"y":0.697},{"s":"redMaGiC low\u2212z","c":"p1","i":34,"x":18.521,"y":0.737},
{"s":"redMaGiC low\u2212z","c":"p2","i":0,"x":18.874,"y":0.737},{"s":"redMaGiC low\u2212z","c":"p2","i":1,"x":19.145,"y":0.811},{"s":"redMaGiC low\u2212z","c":"p2","i":2,"x":19.405,"y":0.842},{"s":"redMaGiC low\u2212z","c":"p2","i":3,"x":19.664,"y":0.864},{"s":"redMaGiC low\u2212z","c":"p2","i":4,"x":19.900,"y":0.895},{"s":"redMaGiC low\u2212z","c":"p2","i":5,"x":20.136,"y":0.965},{"s":"redMaGiC low\u2212z","c":"p2","i":6,"x":20.371,"y":1.009},{"s":"redMaGiC low\u2212z","c":"p2","i":7,"x":20.607,"y":1.070},{"s":"redMaGiC low\u2212z","c":"p2","i":8,"x":20.843,"y":1.140},{"s":"redMaGiC low\u2212z","c":"p2","i":9,"x":21.055,"y":1.202},{"s":"redMaGiC low\u2212z","c":"p2","i":10,"x":21.232,"y":1.259},{"s":"redMaGiC low\u2212z","c":"p2","i":11,"x":21.350,"y":1.346},{"s":"redMaGiC low\u2212z","c":"p2","i":12,"x":21.527,"y":1.412},{"s":"redMaGiC low\u2212z","c":"p2","i":13,"x":21.821,"y":1.447},{"s":"redMaGiC low\u2212z","c":"p2","i":14,"x":22.092,"y":1.452},{"s":"redMaGiC low\u2212z","c":"p2","i":15,"x":22.352,"y":1.434},{"s":"redMaGiC low\u2212z","c":"p2","i":16,"x":22.411,"y":1.399},{"s":"redMaGiC low\u2212z","c":"p2","i":17,"x":22.411,"y":1.360},{"s":"redMaGiC low\u2212z","c":"p2","i":18,"x":22.328,"y":1.316},{"s":"redMaGiC low\u2212z","c":"p2","i":19,"x":22.092,"y":1.224},{"s":"redMaGiC low\u2212z","c":"p2","i":20,"x":21.880,"y":1.149},{"s":"redMaGiC low\u2212z","c":"p2","i":21,"x":21.668,"y":1.075},{"s":"redMaGiC low\u2212z","c":"p2","i":22,"x":21.350,"y":0.996},{"s":"redMaGiC low\u2212z","c":"p2","i":23,"x":21.079,"y":0.930},{"s":"redMaGiC low\u2212z","c":"p2","i":24,"x":20.878,"y":0.886},{"s":"redMaGiC low\u2212z","c":"p2","i":25,"x":20.643,"y":0.838},{"s":"redMaGiC low\u2212z","c":"p2","i":26,"x":20.371,"y":0.798},{"s":"redMaGiC low\u2212z","c":"p2","i":27,"x":20.053,"y":0.754},{"s":"redMaGiC low\u2212z","c":"p2","i":28,"x":19.546,"y":0.763},{"s":"redMaGiC low\u2212z","c":"p2","i":29,"x":19.145,"y":0.746},{"s":"redMaGiC low\u2212z","c":"p2","i":30,"x":18.874,"y":0.737},
{"s":"eBOSS ELGs","c":"e1","i":0,"x":21.904,"y":1.276},{"s":"eBOSS ELGs","c":"e1","i":1,"x":22.116,"y":1.259},{"s":"eBOSS ELGs","c":"e1","i":2,"x":22.210,"y":1.206},{"s":"eBOSS ELGs","c":"e1","i":3,"x":22.316,"y":1.118},{"s":"eBOSS ELGs","c":"e1","i":4,"x":22.411,"y":1.053},{"s":"eBOSS ELGs","c":"e1","i":5,"x":22.470,"y":0.965},{"s":"eBOSS ELGs","c":"e1","i":6,"x":22.493,"y":0.864},{"s":"eBOSS ELGs","c":"e1","i":7,"x":22.470,"y":0.776},{"s":"eBOSS ELGs","c":"e1","i":8,"x":22.411,"y":0.689},{"s":"eBOSS ELGs","c":"e1","i":9,"x":22.328,"y":0.632},{"s":"eBOSS ELGs","c":"e1","i":10,"x":22.116,"y":0.597},{"s":"eBOSS ELGs","c":"e1","i":11,"x":21.904,"y":0.614},{"s":"eBOSS ELGs","c":"e1","i":12,"x":21.703,"y":0.645},{"s":"eBOSS ELGs","c":"e1","i":13,"x":21.468,"y":0.719},{"s":"eBOSS ELGs","c":"e1","i":14,"x":21.409,"y":0.789},{"s":"eBOSS ELGs","c":"e1","i":15,"x":21.409,"y":0.895},{"s":"eBOSS ELGs","c":"e1","i":16,"x":21.468,"y":0.996},{"s":"eBOSS ELGs","c":"e1","i":17,"x":21.503,"y":1.070},{"s":"eBOSS ELGs","c":"e1","i":18,"x":21.586,"y":1.140},{"s":"eBOSS ELGs","c":"e1","i":19,"x":21.703,"y":1.215},{"s":"eBOSS ELGs","c":"e1","i":20,"x":21.904,"y":1.276},
{"s":"eBOSS ELGs","c":"e2","i":0,"x":21.904,"y":1.136},{"s":"eBOSS ELGs","c":"e2","i":1,"x":22.116,"y":1.132},{"s":"eBOSS ELGs","c":"e2","i":2,"x":22.210,"y":1.070},{"s":"eBOSS ELGs","c":"e2","i":3,"x":22.293,"y":0.996},{"s":"eBOSS ELGs","c":"e2","i":4,"x":22.352,"y":0.877},{"s":"eBOSS ELGs","c":"e2","i":5,"x":22.352,"y":0.789},{"s":"eBOSS ELGs","c":"e2","i":6,"x":22.293,"y":0.732},{"s":"eBOSS ELGs","c":"e2","i":7,"x":22.116,"y":0.658},{"s":"eBOSS ELGs","c":"e2","i":8,"x":21.904,"y":0.675},{"s":"eBOSS ELGs","c":"e2","i":9,"x":21.739,"y":0.719},{"s":"eBOSS ELGs","c":"e2","i":10,"x":21.621,"y":0.789},{"s":"eBOSS ELGs","c":"e2","i":11,"x":21.645,"y":0.908},{"s":"eBOSS ELGs","c":"e2","i":12,"x":21.739,"y":1.026},{"s":"eBOSS ELGs","c":"e2","i":13,"x":21.821,"y":1.083},{"s":"eBOSS ELGs","c":"e2","i":14,"x":21.904,"y":1.136},
{"s":"CMASS","c":"g1","i":0,"x":20.642,"y":1.346},{"s":"CMASS","c":"g1","i":1,"x":20.843,"y":1.382},{"s":"CMASS","c":"g1","i":2,"x":21.055,"y":1.360},{"s":"CMASS","c":"g1","i":3,"x":21.114,"y":1.303},{"s":"CMASS","c":"g1","i":4,"x":21.079,"y":1.228},{"s":"CMASS","c":"g1","i":5,"x":20.996,"y":1.140},{"s":"CMASS","c":"g1","i":6,"x":20.878,"y":1.070},{"s":"CMASS","c":"g1","i":7,"x":20.678,"y":0.996},{"s":"CMASS","c":"g1","i":8,"x":20.442,"y":0.921},{"s":"CMASS","c":"g1","i":9,"x":20.253,"y":0.917},{"s":"CMASS","c":"g1","i":10,"x":20.018,"y":0.952},{"s":"CMASS","c":"g1","i":11,"x":19.853,"y":0.996},{"s":"CMASS","c":"g1","i":12,"x":19.841,"y":1.048},{"s":"CMASS","c":"g1","i":13,"x":19.971,"y":1.114},{"s":"CMASS","c":"g1","i":14,"x":20.206,"y":1.202},{"s":"CMASS","c":"g1","i":15,"x":20.442,"y":1.289},{"s":"CMASS","c":"g1","i":16,"x":20.642,"y":1.346},
{"s":"CMASS","c":"g2","i":0,"x":20.843,"y":1.316},{"s":"CMASS","c":"g2","i":1,"x":20.937,"y":1.272},{"s":"CMASS","c":"g2","i":2,"x":20.937,"y":1.202},{"s":"CMASS","c":"g2","i":3,"x":20.843,"y":1.127},{"s":"CMASS","c":"g2","i":4,"x":20.678,"y":1.053},{"s":"CMASS","c":"g2","i":5,"x":20.442,"y":0.982},{"s":"CMASS","c":"g2","i":6,"x":20.206,"y":0.965},{"s":"CMASS","c":"g2","i":7,"x":20.053,"y":1.009},{"s":"CMASS","c":"g2","i":8,"x":20.029,"y":1.048},{"s":"CMASS","c":"g2","i":9,"x":20.136,"y":1.114},{"s":"CMASS","c":"g2","i":10,"x":20.371,"y":1.202},{"s":"CMASS","c":"g2","i":11,"x":20.607,"y":1.272},{"s":"CMASS","c":"g2","i":12,"x":20.843,"y":1.316}
]
},
"vconcat": [
{
  "width": 536, "height": 342,
  "data": {"name": "top"},
  "mark": {"type": "line", "strokeWidth": 1.5},
  "encoding": {
    "x": {"field": "x", "type": "quantitative", "title": "Mr", "scale": {"domain": [-22.806, -19.904], "nice": false, "zero": false}, "axis": {"values": [-22, -21, -20], "format": "d", "titlePadding": 4}},
    "y": {"field": "y", "type": "quantitative", "title": "Mr \u2212 Mz", "scale": {"domain": [0.15, 0.7], "nice": false, "zero": false}, "axis": {"values": [0.2, 0.3, 0.4, 0.5, 0.6, 0.7], "format": ".1f", "titlePadding": 23}},
    "detail": {"field": "c"},
    "order": {"field": "i", "type": "quantitative"},
    "color": {"field": "s", "type": "nominal", "legend": null, "scale": {"domain": ["LOWZ", "eBOSS LRGs", "eBOSS ELGs", "redMaGiC low\u2212z", "redMaGiC high\u2212z", "CMASS"], "range": ["#000000", "#ff69b4", "#4682b4", "#800080", "#ff0000", "#228b22"]}},
    "strokeDash": {"field": "s", "type": "nominal", "legend": null, "scale": {"domain": ["LOWZ", "eBOSS LRGs", "eBOSS ELGs", "redMaGiC low\u2212z", "redMaGiC high\u2212z", "CMASS"], "range": [[5.5, 2.4], [1, 0], [1, 0], [1, 0], [1, 0], [1, 0]]}}
  }
},
{
  "width": 543, "height": 355,
  "data": {"name": "bot"},
  "mark": {"type": "line", "strokeWidth": 1.5},
  "encoding": {
    "x": {"field": "x", "type": "quantitative", "title": "r", "scale": {"domain": [16.906, 23.306], "nice": false, "zero": false}, "axis": {"values": [17, 18, 19, 20, 21, 22, 23], "format": "d", "titlePadding": 14}},
    "y": {"field": "y", "type": "quantitative", "title": "r \u2212 z", "scale": {"domain": [0.5, 2.057], "nice": false, "zero": false}, "axis": {"values": [0.5, 1.0, 1.5, 2.0], "format": ".1f", "titlePadding": 19}},
    "detail": {"field": "c"},
    "order": {"field": "i", "type": "quantitative"},
    "color": {"field": "s", "type": "nominal", "scale": {"domain": ["LOWZ", "eBOSS LRGs", "eBOSS ELGs", "redMaGiC low\u2212z", "redMaGiC high\u2212z", "CMASS"], "range": ["#000000", "#ff69b4", "#4682b4", "#800080", "#ff0000", "#228b22"]},
      "legend": {"title": null, "orient": "top-left", "offset": 12, "padding": 0, "symbolType": "stroke", "symbolSize": 1764, "symbolStrokeWidth": 2.2, "labelFontSize": 22, "labelFont": "Liberation Serif", "labelColor": "black", "labelOffset": 12, "labelLimit": 400, "rowPadding": 5.3, "clipHeight": 17}},
    "strokeDash": {"field": "s", "type": "nominal", "scale": {"domain": ["LOWZ", "eBOSS LRGs", "eBOSS ELGs", "redMaGiC low\u2212z", "redMaGiC high\u2212z", "CMASS"], "range": [[5.5, 2.4], [1, 0], [1, 0], [1, 0], [1, 0], [1, 0]]},
      "legend": {"title": null, "orient": "top-left", "offset": 12, "padding": 0, "symbolType": "stroke", "symbolSize": 1764, "symbolStrokeWidth": 2.2, "labelFontSize": 22, "labelFont": "Liberation Serif", "labelColor": "black", "labelOffset": 12, "labelLimit": 400, "rowPadding": 5.3, "clipHeight": 17}}
  }
}
]
}
